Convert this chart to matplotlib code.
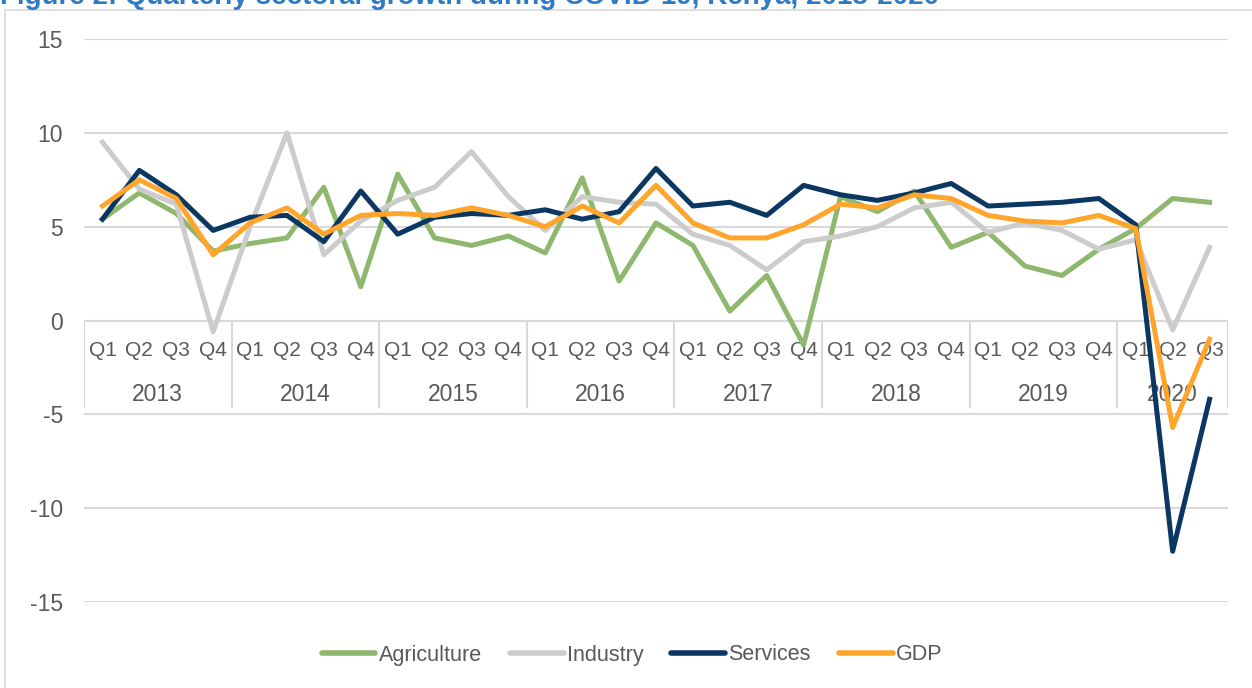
import matplotlib
matplotlib.use("Agg")
import matplotlib.pyplot as plt
from matplotlib.patches import Rectangle

# Quarterly growth (%), 2013 Q1 .. 2020 Q3
years = ['2013', '2014', '2015', '2016', '2017', '2018', '2019', '2020']
quarters = ['Q1', 'Q2', 'Q3', 'Q4']
n_quarters_last = 3

agriculture = [5.4, 6.8, 5.7, 3.7, 4.1, 4.4, 7.1, 1.8,
               7.8, 4.4, 4.0, 4.5, 3.6, 7.6, 2.1, 5.2,
               4.0, 0.5, 2.4, -1.3, 6.6, 5.8, 6.9, 3.9,
               4.7, 2.9, 2.4, 3.8, 4.9, 6.5, 6.3]
industry = [9.5, 7.0, 6.2, -0.6, 5.0, 10.0, 3.5, 5.3,
            6.4, 7.1, 9.0, 6.6, 4.8, 6.6, 6.3, 6.2,
            4.6, 4.0, 2.7, 4.2, 4.5, 5.0, 6.0, 6.3,
            4.7, 5.2, 4.8, 3.8, 4.3, -0.5, 3.9]
services = [5.4, 8.0, 6.7, 4.8, 5.5, 5.6, 4.2, 6.9,
            4.6, 5.5, 5.7, 5.6, 5.9, 5.4, 5.8, 8.1,
            6.1, 6.3, 5.6, 7.2, 6.7, 6.4, 6.8, 7.3,
            6.1, 6.2, 6.3, 6.5, 5.1, -12.3, -4.2]
gdp = [6.1, 7.5, 6.5, 3.5, 5.2, 6.0, 4.6, 5.6,
       5.7, 5.6, 6.0, 5.6, 5.0, 6.1, 5.2, 7.2,
       5.2, 4.4, 4.4, 5.1, 6.2, 6.0, 6.7, 6.5,
       5.6, 5.3, 5.2, 5.6, 4.9, -5.7, -1.0]

colors = {'Agriculture': '#8FB86E', 'Industry': '#CCCCCC',
          'Services': '#0B3763', 'GDP': '#FFA52C'}
txt_col = '#595959'
grid_col = '#D9D9D9'

plt.rcParams['font.family'] = ['Liberation Sans', 'DejaVu Sans']
plt.rcParams['axes.unicode_minus'] = False

W, H = 1252, 688
fig = plt.figure(figsize=(W / 100, H / 100), dpi=100)

# outer chart border
fig.patches.append(Rectangle((5 / W, -0.01), 1.0, 1 - 10 / H + 0.01,
                             transform=fig.transFigure, fill=False,
                             edgecolor=grid_col, lw=1.2))

# title is cut off at the top edge, as in the source
fig.text(0.0, 1 - 4 / H, 'Figure 2: Quarterly sectoral growth during COVID-19, Kenya, 2013-2020',
         color='#2E7BC4', fontsize=20, fontweight='bold', va='baseline', ha='left')

ax = fig.add_axes([84 / W, 1 - 602 / H, (1228 - 84) / W, (602 - 39) / H])
n = len(gdp)
x = list(range(n))

ax.plot(x, agriculture, color=colors['Agriculture'], lw=3.6, label='Agriculture', solid_joinstyle='round')
ax.plot(x, industry, color=colors['Industry'], lw=3.6, label='Industry', solid_joinstyle='round')
ax.plot(x, services, color=colors['Services'], lw=3.6, label='Services', solid_joinstyle='round')
ax.plot(x, gdp, color=colors['GDP'], lw=3.6, label='GDP', solid_joinstyle='round')

ax.set_xlim(-0.5, n - 0.5)
ax.set_ylim(-15, 15)
ax.set_yticks([-15, -10, -5, 0, 5, 10, 15])
ax.yaxis.grid(True, color=grid_col, lw=1.5)
ax.set_axisbelow(True)
for s in ax.spines.values():
    s.set_visible(False)
ax.tick_params(axis='y', length=0, labelsize=16.5, labelcolor=txt_col, pad=15)
ax.set_xticks([])

# multi-level category labels at the zero line
sep_bottom = -4.6
q_y = -1.6
yr_y = -3.95
idx = 0
for k, yr in enumerate(years):
    nq = n_quarters_last if k == len(years) - 1 else 4
    for q in quarters[:nq]:
        ax.text(idx, q_y, q, ha='center', va='center', fontsize=15, color=txt_col, zorder=1)
        idx += 1
    ax.text(idx - nq / 2 - 0.5, yr_y, yr, ha='center', va='center', fontsize=16.5, color=txt_col, zorder=1)
    ax.plot([idx - nq - 0.5, idx - nq - 0.5], [0, sep_bottom], color=grid_col, lw=1.5, zorder=0.5)
ax.plot([n - 0.5, n - 0.5], [0, sep_bottom], color=grid_col, lw=1.5, zorder=0.5)

leg = fig.legend(loc='center', bbox_to_anchor=(632 / W, 1 - 655 / H), ncol=4, frameon=False,
                 handlelength=2.5, handletextpad=0.15, columnspacing=1.3,
                 prop={'size': 15.5})
for t in leg.get_texts():
    t.set_color(txt_col)
for h in leg.get_lines():
    h.set_linewidth(4)
    h.set_solid_capstyle('round')

fig.savefig('out.png', dpi=100)
